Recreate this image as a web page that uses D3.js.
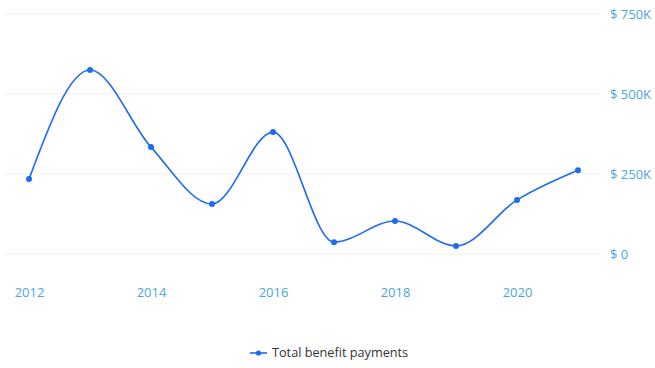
<!DOCTYPE html>
<html>
<head>
<meta charset="utf-8">
<script src="https://cdn.jsdelivr.net/npm/d3@7"></script>
<style>
  body { margin: 0; background: #fff; }
  text { font-family: "Open Sans", "Noto Sans", sans-serif; }
</style>
</head>
<body>
<script>
// chart data
var years = [2012, 2013, 2014, 2015, 2016, 2017, 2018, 2019, 2020, 2021];
var payments = [234000, 575000, 334000, 156000, 381000, 37000, 103000, 25000, 169000, 262000];
var yTicks = [0, 250000, 500000, 750000];
var xTicks = [2012, 2014, 2016, 2018, 2020];
var seriesName = 'Total benefit payments';

var W = 655, H = 368;
var lineColor = '#1f6bf0', labelColor = '#4aa7d6';

var svg = d3.select('body').append('svg').attr('width', W).attr('height', H);

var x = d3.scaleLinear().domain([2012, 2021]).range([29, 578]);
var y = d3.scaleLinear().domain([0, 750000]).range([254, 14]);

// gridlines + right axis labels
var yAxis = d3.axisRight(y).tickValues(yTicks).tickSize(0)
  .tickFormat(function(d){ return d === 0 ? '$ 0' : '$ ' + d3.format('d')(d/1000) + 'K'; });
var gy = svg.append('g').attr('transform', 'translate(610,0)').call(yAxis);
gy.select('.domain').remove();
gy.selectAll('text').attr('x', 0).attr('fill', labelColor).style('font-size', '13px');

svg.append('g').selectAll('line').data(yTicks).join('line')
  .attr('x1', 5).attr('x2', 602)
  .attr('y1', d => y(d)).attr('y2', d => y(d))
  .attr('stroke', '#f1f1f1').attr('stroke-width', 1);

// x axis labels
var xAxis = d3.axisBottom(x).tickValues(xTicks).tickSize(0).tickFormat(d3.format('d'));
var gx = svg.append('g').attr('transform', 'translate(0,285)').call(xAxis);
gx.select('.domain').remove();
gx.selectAll('text').attr('fill', labelColor).style('font-size', '13px');

// the line
var line = d3.line().x((d,i) => x(years[i])).y(d => y(d)).curve(d3.curveMonotoneX);
svg.append('path').attr('d', line(payments))
  .attr('fill', 'none').attr('stroke', lineColor).attr('stroke-width', 1.6);

svg.append('g').selectAll('circle').data(payments).join('circle')
  .attr('cx', (d,i) => x(years[i])).attr('cy', d => y(d)).attr('r', 3)
  .attr('fill', lineColor);

// legend
var lg = svg.append('g').attr('transform', 'translate(250,353)');
lg.append('line').attr('x1', 0).attr('x2', 17).attr('stroke', lineColor).attr('stroke-width', 1.6);
lg.append('circle').attr('cx', 8.5).attr('r', 2.6).attr('fill', lineColor);
lg.append('text').attr('x', 22).attr('dy', '0.35em').attr('fill', '#333')
  .style('font-size', '12.7px').text(seriesName);
</script>
</body>
</html>
